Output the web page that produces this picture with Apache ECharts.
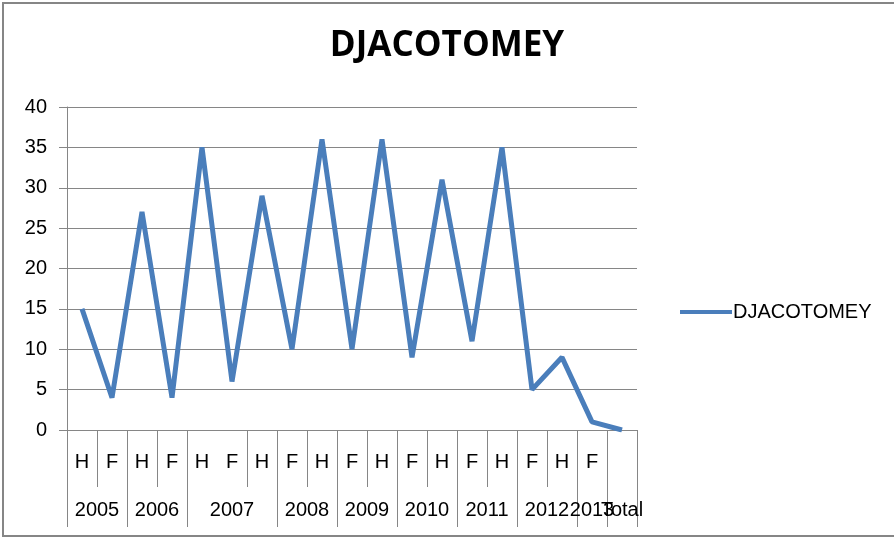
<!DOCTYPE html>
<html>
<head>
<meta charset="utf-8">
<script src="https://cdn.jsdelivr.net/npm/echarts@6/dist/echarts.min.js"></script>
<style>
	html, body { margin: 0; padding: 0; background: #ffffff; }
	#chart { width: 894px; height: 538px; }
</style>
</head>
<body>
<div id="chart"></div>
<script>
//Chart data
let sex_labels = ["H", "F", "H", "F", "H", "F", "H", "F", "H", "F", "H", "F", "H", "F", "H", "F", "H", "F", ""];
let year_labels = ["2005", "2006", "2007", "2008", "2009", "2010", "2011", "2012", "2013", "Total"];
let year_sizes = [2, 2, 3, 2, 2, 2, 2, 2, 1, 1];
let djacotomey_values = [15, 4, 27, 4, 35, 6, 29, 10, 36, 10, 36, 9, 31, 11, 35, 5, 9, 1, 0];
let y_ticks = [0, 5, 10, 15, 20, 25, 30, 35, 40];

//Year group boundaries and centres (in category units)
let year_bounds = [0];
let year_centres = [];
for (let i = 0; i < year_sizes.length; i++) {
	year_centres.push(year_bounds[i] + year_sizes[i]/2);
	year_bounds.push(year_bounds[i] + year_sizes[i]);
}
//Split centres across two axes so that neighbouring labels are never hidden as overlaps
let even_centres = year_centres.filter((local_value, i) => i % 2 === 0);
let odd_centres = year_centres.filter((local_value, i) => i % 2 === 1);

let axis_colour = "#868686";
let line_colour = "#4a7ebb";
let font_family = "'Liberation Sans', 'DejaVu Sans', sans-serif";

function getYearAxis (arg0_centres, arg1_show_ticks) {
	//Convert from parameters
	let centres = arg0_centres;
	let show_ticks = arg1_show_ticks;

	//Return statement
	return {
		type: "value",
		position: "bottom",
		min: 0,
		max: year_bounds[year_bounds.length - 1],
		axisLine: { show: false },
		axisTick: {
			show: show_ticks,
			length: 97,
			customValues: year_bounds,
			lineStyle: { color: axis_colour, width: 1 }
		},
		axisLabel: {
			customValues: centres,
			hideOverlap: false,
			showMinLabel: true,
			showMaxLabel: true,
			margin: 70,
			color: "#000000",
			fontFamily: font_family,
			fontSize: 20,
			formatter: (value) => {
				let index = year_centres.indexOf(value);
				return (index >= 0) ? year_labels[index] : "";
			}
		},
		splitLine: { show: false }
	};
}

let chart = echarts.init(document.getElementById("chart"), null, { renderer: "canvas" });
chart.setOption({
	animation: false,
	backgroundColor: "#ffffff",
	title: {
		text: "DJACOTOMEY",
		left: "center",
		top: 24,
		textStyle: {
			color: "#000000",
			fontFamily: "'Open Sans', 'Liberation Sans', sans-serif",
			fontWeight: "bold",
			fontSize: 35
		}
	},
	legend: {
		data: ["DJACOTOMEY"],
		orient: "vertical",
		left: 675,
		top: 297,
		itemWidth: 52,
		itemHeight: 14,
		itemGap: 4,
		icon: "path://M0,5 L52,5 L52,9 L0,9 Z",
		textStyle: { color: "#000000", fontFamily: font_family, fontSize: 20, padding: [0, 0, 0, -4] }
	},
	grid: { left: 67, right: 257, top: 107, bottom: 108, containLabel: false },
	xAxis: [
		{
			type: "category",
			data: sex_labels,
			boundaryGap: true,
			axisLine: { show: true, lineStyle: { color: axis_colour, width: 1 } },
			axisTick: {
				show: true,
				length: 57,
				interval: (index) => index !== 5,
				lineStyle: { color: axis_colour, width: 1 }
			},
			axisLabel: {
				interval: 0,
				margin: 22,
				color: "#000000",
				fontFamily: font_family,
				fontSize: 20
			},
			splitLine: { show: false }
		},
		getYearAxis(even_centres, true),
		getYearAxis(odd_centres, false)
	],
	yAxis: {
		type: "value",
		min: y_ticks[0],
		max: y_ticks[y_ticks.length - 1],
		interval: 5,
		axisLine: { show: true, lineStyle: { color: axis_colour, width: 1 } },
		axisTick: { show: true, length: 8, lineStyle: { color: axis_colour, width: 1 } },
		axisLabel: {
			margin: 20,
			color: "#000000",
			fontFamily: font_family,
			fontSize: 20
		},
		splitLine: { show: true, lineStyle: { color: axis_colour, width: 1 } }
	},
	series: [
		{
			name: "DJACOTOMEY",
			type: "line",
			xAxisIndex: 0,
			data: djacotomey_values,
			symbol: "none",
			lineStyle: { color: line_colour, width: 5 },
			itemStyle: { color: line_colour }
		}
	],
	graphic: [
		{
			type: "rect",
			shape: { x: 3, y: 3, width: 900, height: 533 },
			style: { fill: "none", stroke: axis_colour, lineWidth: 2 },
			silent: true
		}
	]
});
</script>
</body>
</html>
